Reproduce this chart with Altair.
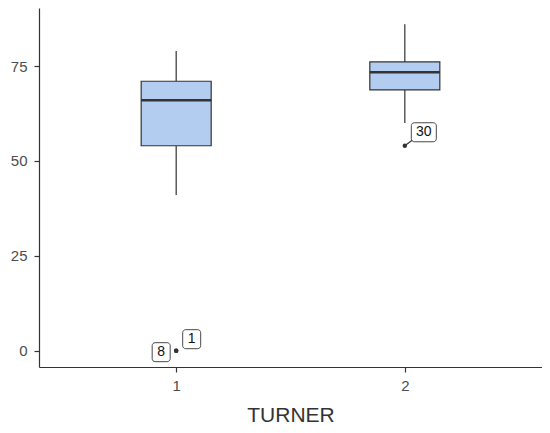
import altair as alt
import pandas as pd

# Box statistics per TURNER group
turner = [1, 2]
whisker_low = [41, 60]
q1 = [54, 68.7]
median = [66, 73.4]
q3 = [71, 76.1]
whisker_high = [79, 86]

# Outliers and their labels
outlier_turner = [1, 1, 2]
outlier_value = [0, 0, 54]
outlier_label = ["8", "1", "30"]

FONT = "Liberation Sans"
DARK = "#333333"

boxes = pd.DataFrame({
    "turner": turner, "lo": whisker_low, "q1": q1, "med": median,
    "q3": q3, "hi": whisker_high,
})
outl = pd.DataFrame({"turner": outlier_turner, "value": outlier_value, "label": outlier_label})

xscale = alt.Scale(domain=[0.4, 2.6], nice=False, zero=False)
yscale = alt.Scale(domain=[-4.3, 90.3], nice=False, zero=False)
xaxis = alt.Axis(values=[1, 2], format="d", title="TURNER", grid=False, labelPadding=6, titlePadding=11)
yaxis = alt.Axis(values=[0, 25, 50, 75], title=None, grid=False, labelPadding=7)


def X(field="turner"):
    return alt.X(f"{field}:Q", scale=xscale, axis=xaxis)


def Y(field):
    return alt.Y(f"{field}:Q", scale=yscale, axis=yaxis)


base = alt.Chart(boxes)

whisk_low = base.mark_rule(color=DARK, strokeWidth=1.2).encode(x=X(), y=Y("lo"), y2="q1:Q")
whisk_high = base.mark_rule(color=DARK, strokeWidth=1.2).encode(x=X(), y=Y("q3"), y2="hi:Q")
box = base.mark_rect(xOffset=-35, x2Offset=35, fill="#b3cdf1", stroke=DARK, strokeWidth=1.2).encode(
    x=X(), x2=alt.X2("turner:Q"), y=Y("q1"), y2="q3:Q"
)
med = base.mark_rule(xOffset=-35, x2Offset=35, color=DARK, strokeWidth=2.5).encode(
    x=X(), x2=alt.X2("turner:Q"), y=Y("med")
)

ob = alt.Chart(outl)

seg30 = ob.transform_filter("datum.label == '30'").mark_rule(
    color=DARK, strokeWidth=1.2, x2Offset=8, y2Offset=-6
).encode(x=X(), x2=alt.X2("turner:Q"), y=Y("value"), y2=alt.Y2("value:Q"))

points = ob.mark_circle(color=DARK, size=20, opacity=1).encode(x=X(), y=Y("value"))

label_layers = []
for lab, dx, dy, w in [("8", -15, 1.5, 18), ("1", 15.5, -11.5, 18), ("30", 19, -13.5, 25)]:
    f = ob.transform_filter(f"datum.label == '{lab}'")
    rect = f.mark_rect(
        xOffset=dx - w / 2, x2Offset=dx + w / 2, yOffset=dy - 9.5, y2Offset=dy + 9.5,
        fill="white", stroke=DARK, strokeWidth=0.9, cornerRadius=3,
    ).encode(x=X(), x2=alt.X2("turner:Q"), y=Y("value"), y2=alt.Y2("value:Q"))
    txt = f.mark_text(dx=dx, dy=dy, fontSize=14, font=FONT, color="#111111").encode(
        x=X(), y=Y("value"), text="label:N"
    )
    label_layers += [rect, txt]

chart = alt.layer(whisk_low, whisk_high, box, med, seg30, points, *label_layers).properties(
    width=503, height=359,
    autosize=alt.AutoSizeParams(type="none"),
    padding={"left": 31, "top": 0, "right": 0, "bottom": 58},
).configure_view(stroke=None).configure_axis(
    domainColor=DARK, domainWidth=1.2, tickColor=DARK, tickWidth=1.2, tickSize=5,
    labelColor="#4d4d4d", labelFontSize=15, labelFont=FONT,
    titleFont=FONT, titleFontSize=21, titleFontWeight="normal", titleColor="#333333",
)

chart.save("out.html", embed_options={"renderer": "svg", "actions": False})
